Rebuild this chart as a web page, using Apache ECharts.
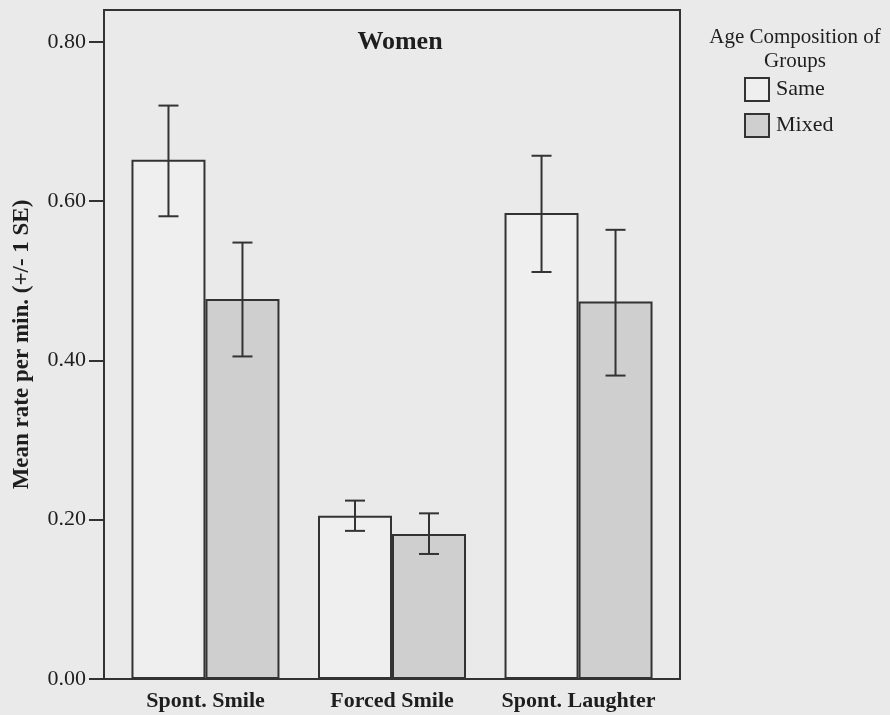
<!DOCTYPE html>
<html>
<head>
<meta charset="utf-8">
<script src="https://cdn.jsdelivr.net/npm/echarts@6/dist/echarts.min.js"></script>
<style>
html,body{margin:0;padding:0;background:#eaeaea;}
#chart{width:890px;height:715px;}
</style>
</head>
<body>
<div id="chart"></div>
<script>
var categories = ['Spont. Smile', 'Forced Smile', 'Spont. Laughter'];
var seriesNames = ['Same', 'Mixed'];
var sameMean = [0.652, 0.205, 0.585];
var sameLow  = [0.581, 0.186, 0.511];
var sameHigh = [0.720, 0.224, 0.657];
var mixedMean = [0.477, 0.182, 0.474];
var mixedLow  = [0.405, 0.157, 0.381];
var mixedHigh = [0.548, 0.208, 0.564];
var yTicks = [0, 0.2, 0.4, 0.6, 0.8];

var BAR_W = 74;
var INK = '#333333';
var TXT = '#1e1e1e';
var SERIF = "'Liberation Serif','DejaVu Serif',serif";

function barData(vals){ return vals.map(function(v,i){ return [i, v]; }); }
function errData(lo, hi){ return lo.map(function(v,i){ return [i, v, hi[i]]; }); }

function errRender(offset){
  return function(params, api){
    var x = api.value(0);
    var top = api.coord([x, api.value(2)]);
    var bot = api.coord([x, api.value(1)]);
    var cx = top[0] + offset;
    var cap = 10;
    var st = {stroke: INK, lineWidth: 2};
    return {type:'group', children:[
      {type:'line', shape:{x1:cx, y1:top[1], x2:cx, y2:bot[1]}, style:st},
      {type:'line', shape:{x1:cx-cap, y1:top[1], x2:cx+cap, y2:top[1]}, style:st},
      {type:'line', shape:{x1:cx-cap, y1:bot[1], x2:cx+cap, y2:bot[1]}, style:st}
    ]};
  };
}

var chart = echarts.init(document.getElementById('chart'), null, {renderer:'canvas'});
chart.setOption({
  backgroundColor: '#eaeaea',
  animation: false,
  title: [
    {text:'Women', left:395, top:24, textAlign:'center',
     textStyle:{fontFamily:SERIF, fontSize:26, fontWeight:'bold', color:TXT}},
    {text:'Age Composition of\nGroups', left:790, top:20, textAlign:'center',
     textStyle:{fontFamily:SERIF, fontSize:21, fontWeight:'normal', color:TXT, lineHeight:24}}
  ],
  legend: {
    data: seriesNames, orient:'vertical', left:744, top:77, padding:0,
    itemWidth:24, itemHeight:23, itemGap:11, icon:'rect',
    textStyle:{fontFamily:SERIF, fontSize:22, color:TXT, padding:[0,0,0,2]}
  },
  grid: {left:104, right:210, top:10, bottom:36, show:true, borderColor:INK, borderWidth:2, backgroundColor:'transparent'},
  xAxis: {
    type:'value', min:-0.544, max:2.544,
    splitLine:{show:false}, axisTick:{show:false},
    axisLine:{show:true, onZero:false, lineStyle:{color:INK, width:2}},
    axisLabel:{customValues:[0,1,2], formatter:function(v){ return categories[Math.round(v)]; },
      fontFamily:SERIF, fontSize:22, fontWeight:'bold', color:TXT, margin:11}
  },
  yAxis: {
    type:'value', min:0, max:0.84,
    name:'Mean rate per min. (+/- 1 SE)', nameLocation:'middle', nameGap:70,
    nameTextStyle:{fontFamily:SERIF, fontSize:23, fontWeight:'bold', color:TXT},
    splitLine:{show:false},
    axisLine:{show:true, onZero:false, lineStyle:{color:INK, width:2}},
    axisTick:{show:true, customValues:yTicks, length:15, lineStyle:{color:INK, width:2}},
    axisLabel:{customValues:yTicks, formatter:function(v){ return v.toFixed(2); },
      fontFamily:SERIF, fontSize:22, color:TXT, margin:18}
  },
  series: [
    {name:'Same', type:'bar', data:barData(sameMean), barWidth:BAR_W, barGap:'0%',
     itemStyle:{color:'#efefef', borderColor:INK, borderWidth:2}},
    {name:'Mixed', type:'bar', data:barData(mixedMean), barWidth:BAR_W, barGap:'0%',
     itemStyle:{color:'#cfcfcf', borderColor:INK, borderWidth:2}},
    {name:'Same SE', type:'custom', data:errData(sameLow, sameHigh), encode:{x:0, y:[1,2]},
     renderItem:errRender(-BAR_W/2), z:5},
    {name:'Mixed SE', type:'custom', data:errData(mixedLow, mixedHigh), encode:{x:0, y:[1,2]},
     renderItem:errRender(BAR_W/2), z:5}
  ]
});
</script>
</body>
</html>
